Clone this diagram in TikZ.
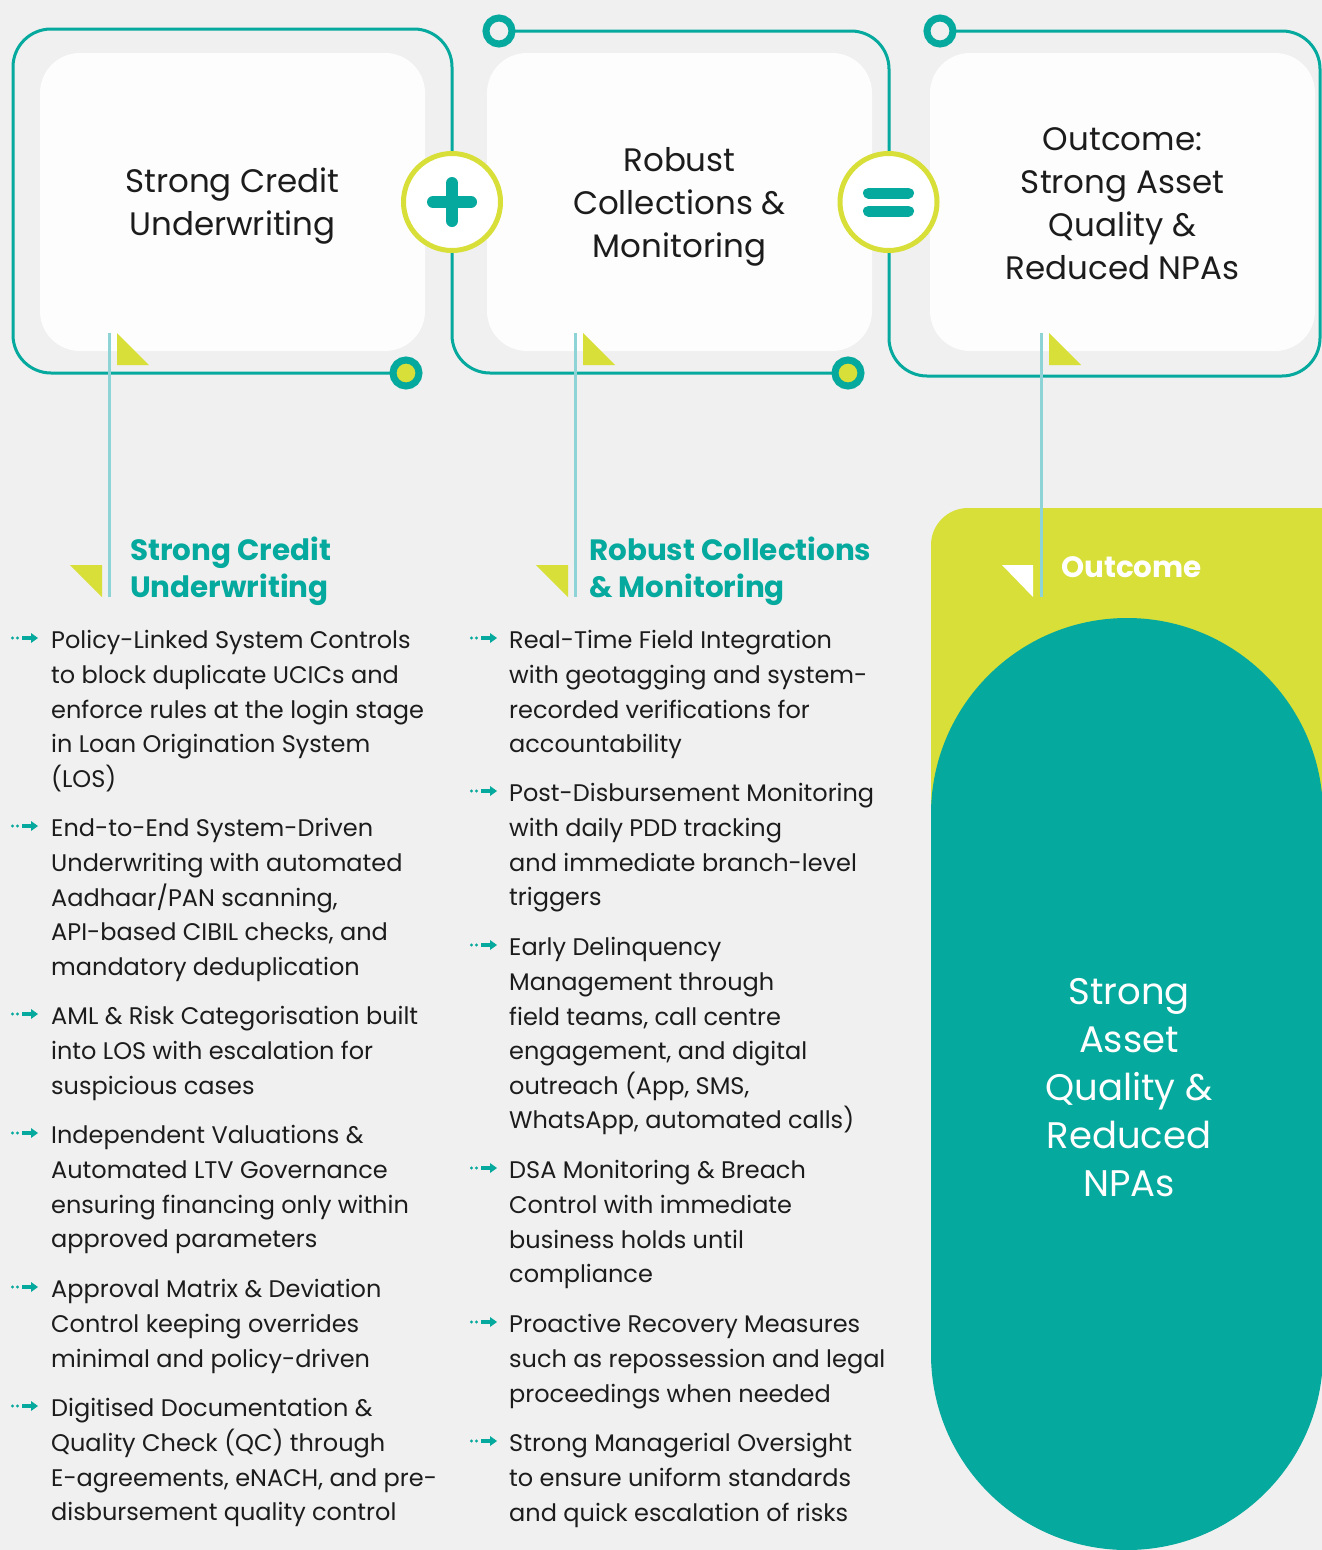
\documentclass[tikz,border=0pt]{standalone}
\usepackage{fontspec}
\setmainfont{Poppins}
\definecolor{teal1}{HTML}{05A99D}
\definecolor{lime}{HTML}{D8DF38}
\definecolor{bg}{HTML}{F0F0F0}
\definecolor{cardw}{HTML}{FDFDFD}
\definecolor{vline}{HTML}{8ED4D7}
\definecolor{ink}{HTML}{1C1C1C}
\tikzset{
  outline/.style={draw=teal1,line width=3pt,rounded corners=38pt},
  card/.style={fill=cardw,rounded corners=40pt},
  opcircle/.style={circle,draw=lime,line width=5pt,fill=white,minimum size=97pt,inner sep=0pt},
  ring/.style={circle,draw=teal1,line width=7pt,minimum size=26pt,inner sep=0pt},
  sym/.style={teal1,line cap=round},
  stem/.style={draw=vline,line width=3pt},
  boxtext/.style={align=center,inner sep=0pt,text=ink,font=\fontsize{32.5}{43}\selectfont},
  head/.style={anchor=north west,align=left,inner sep=0pt,text=teal1,font=\fontsize{29.4}{37}\selectfont\bfseries},
  body/.style={anchor=north west,align=left,inner sep=0pt,text=ink,font=\fontsize{24}{34.6}\selectfont},
  bularrow/.pic={
    \fill[teal1] (-13.5,0) circle (1.6);
    \fill[teal1] (-8.5,0) circle (1.6);
    \draw[teal1,line width=3.4pt] (-4,0) -- (7,0);
    \fill[teal1] (5,-5) -- (12,0) -- (5,5) -- cycle;
  }
}
\begin{document}
\begin{tikzpicture}[x=1pt,y=-1pt]
\useasboundingbox (0,0) rectangle (1322,1550);
\clip (0,0) rectangle (1322,1550);
\fill[bg] (0,0) rectangle (1322,1550);

% outlines
\draw[outline] (406,373) -- (13,373) -- (13,29) -- (452,29) -- (452,373) -- (848,373);
\draw[outline] (499,31) -- (889,31) -- (889,376) -- (1320,376) -- (1320,31) -- (940,31);

% cards
\fill[card] (40,53) rectangle (425,351);
\fill[card] (487,53) rectangle (872,351);
\fill[card] (930,53) rectangle (1315,351);

\node[boxtext] (t1) at (232.5,206) {Strong Credit\\Underwriting};
\node[boxtext] (t2) at (679.5,206.5) {Robust\\Collections \&\\Monitoring};
\node[boxtext] (t3) at (1122.5,203.5) {Outcome:\\Strong Asset\\Quality \&\\Reduced NPAs};

% operator circles
\node[opcircle] (plus) at (452,202) {};
\draw[sym,line width=12pt] ([xshift=-19pt]plus.center) -- ([xshift=19pt]plus.center);
\draw[sym,line width=12pt] ([yshift=-19pt]plus.center) -- ([yshift=19pt]plus.center);
\node[opcircle] (eq) at (888.5,202) {};
\draw[sym,line width=11pt] ([xshift=-20pt,yshift=9pt]eq.center) -- ([xshift=20pt,yshift=9pt]eq.center);
\draw[sym,line width=11pt] ([xshift=-20pt,yshift=-9pt]eq.center) -- ([xshift=20pt,yshift=-9pt]eq.center);

% rings
\node[ring,fill=lime] (r1) at (406,373) {};
\node[ring,fill=lime] (r2) at (848,373) {};
\node[ring,fill=bg] (r3) at (499,31) {};
\node[ring,fill=bg] (r4) at (940,31) {};

% outcome panel
\fill[lime,rounded corners=37pt] (931,508) rectangle (1400,1000);
\fill[teal1,rounded corners=196pt] (931,618) rectangle (1323,1550);

% stems and flags
\coordinate (s1a) at (109,333); \coordinate (s1b) at (109,597);
\coordinate (s2a) at (575,333); \coordinate (s2b) at (575,597);
\coordinate (s3a) at (1041,333); \coordinate (s3b) at (1041,597);
\draw[stem] (s1a) -- (s1b);
\draw[stem] (s2a) -- (s2b);
\draw[stem] (s3a) -- (s3b);
\fill[lime] (117,333) -- (117,365) -- (149,365) -- cycle;
\fill[lime] (583,333) -- (583,365) -- (615,365) -- cycle;
\fill[lime] (1049,333) -- (1049,365) -- (1081,365) -- cycle;
\fill[lime] (70,565) -- (102,565) -- (102,597) -- cycle;
\fill[lime] (536,565) -- (568,565) -- (568,597) -- cycle;
\fill[white] (1002,565) -- (1033,565) -- (1033,597) -- cycle;

% headers
\node[head] (h1) at (130,537) {Strong Credit\\Underwriting};
\node[head] (h2) at (589,537) {Robust Collections\\\& Monitoring};
\node[head,text=white] (h3) at (1061,556) {Outcome};

% big outcome text
\node[align=center,inner sep=0pt,text=white,font=\fontsize{37}{48}\selectfont] (big) at (1129,1087.5) {Strong\\Asset\\Quality \&\\Reduced\\NPAs};

% left column
\pic at (26,638) {bularrow};
\node[body] (l1) at (51,630.5) {Policy-Linked System Controls\\to block duplicate UCICs and\\enforce rules at the login stage\\in Loan Origination System\\(LOS)};
\pic at (26,826) {bularrow};
\node[body] (l2) at (51,818.5) {End-to-End System-Driven\\Underwriting with automated\\Aadhaar/PAN scanning,\\API-based CIBIL checks, and\\mandatory deduplication};
\pic at (26,1014) {bularrow};
\node[body] (l3) at (51,1006.5) {AML \& Risk Categorisation built\\into LOS with escalation for\\suspicious cases};
\pic at (26,1133) {bularrow};
\node[body] (l4) at (51,1125.5) {Independent Valuations \&\\Automated LTV Governance\\ensuring financing only within\\approved parameters};
\pic at (26,1287) {bularrow};
\node[body] (l5) at (51,1279.5) {Approval Matrix \& Deviation\\Control keeping overrides\\minimal and policy-driven};
\pic at (26,1406) {bularrow};
\node[body] (l6) at (51,1398.5) {Digitised Documentation \&\\Quality Check (QC) through\\E-agreements, eNACH, and pre-\\disbursement quality control};

% middle column
\pic at (485,638) {bularrow};
\node[body] (m1) at (509,630.5) {Real-Time Field Integration\\with geotagging and system-\\recorded verifications for\\accountability};
\pic at (485,791) {bularrow};
\node[body] (m2) at (509,783.5) {Post-Disbursement Monitoring\\with daily PDD tracking\\and immediate branch-level\\triggers};
\pic at (485,945) {bularrow};
\node[body] (m3) at (509,937.5) {Early Delinquency\\Management through\\field teams, call centre\\engagement, and digital\\outreach (App, SMS,\\WhatsApp, automated calls)};
\pic at (485,1168) {bularrow};
\node[body] (m4) at (509,1160.5) {DSA Monitoring \& Breach\\Control with immediate\\business holds until\\compliance};
\pic at (485,1322) {bularrow};
\node[body] (m5) at (509,1314.5) {Proactive Recovery Measures\\such as repossession and legal\\proceedings when needed};
\pic at (485,1441) {bularrow};
\node[body] (m6) at (509,1433.5) {Strong Managerial Oversight\\to ensure uniform standards\\and quick escalation of risks};
\end{tikzpicture}
\end{document}
